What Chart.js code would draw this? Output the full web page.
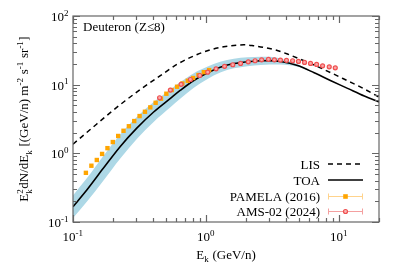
<!DOCTYPE html>
<html>
<head>
<meta charset="utf-8">
<script src="https://cdn.jsdelivr.net/npm/chart.js@4.4.1/dist/chart.umd.min.js"></script>
<style>
  html, body { margin: 0; padding: 0; background: #fff; }
  #wrap { width: 399px; height: 279px; }
</style>
</head>
<body>
<div id="wrap"><canvas id="myChart" width="399" height="279"></canvas></div>
<script>
// LIS (dashed)
var lisE = [0.1, 0.137, 0.185, 0.247, 0.33, 0.448, 0.612, 0.859, 1.08, 1.36, 1.62, 1.93, 2.3, 2.73, 3.35, 4.1, 5.17, 6.51, 8.7, 11.6, 14.7, 20];
var lisF = [1.36, 2.28, 3.73, 5.83, 8.83, 13.3, 20.0, 27.5, 32.2, 35.6, 37.3, 38.1, 36.8, 34.9, 31.9, 27.9, 23.3, 19.3, 14.9, 11.4, 9.14, 6.6];

// TOA (solid) and its uncertainty band
var toaE = [0.1, 0.127, 0.169, 0.226, 0.303, 0.404, 0.54, 0.643, 0.81, 1.02, 1.28, 1.62, 2.05, 2.58, 3.0, 3.65, 4.88, 6.51, 8.7, 11.6, 15.5, 20];
var toaF = [0.167, 0.292, 0.605, 1.25, 2.35, 4.0, 6.32, 8.3, 11.5, 14.8, 18.0, 20.3, 21.6, 22.3, 22.4, 21.7, 19.0, 14.9, 11.4, 8.83, 6.82, 5.6];
var bandLow = [0.114, 0.197, 0.400, 0.836, 1.63, 2.87, 4.69, 6.30, 9.03, 12.0, 15.0, 17.3, 18.6, 19.4, 19.7, 19.6, 18.2, 14.9, 11.4, 8.83, 6.82, 5.6];
var bandHigh = [0.244, 0.432, 0.916, 1.87, 3.40, 5.58, 8.53, 10.9, 14.7, 18.2, 21.6, 23.9, 25.1, 25.6, 25.4, 24.0, 19.9, 14.9, 11.4, 8.83, 6.82, 5.6];

// PAMELA (2016)
var pamelaE = [0.125, 0.1375, 0.151, 0.1655, 0.1816, 0.1992, 0.2186, 0.2398, 0.2631, 0.2887, 0.3167, 0.3475, 0.3812, 0.4182, 0.4588, 0.5034, 0.5523, 0.6059, 0.6647, 0.7293, 0.8001, 0.8778, 0.963, 1.0565];
var pamelaF = [0.52, 0.66, 0.80, 0.98, 1.19, 1.46, 1.79, 2.13, 2.48, 2.95, 3.49, 4.03, 4.67, 5.45, 6.25, 7.38, 8.35, 9.33, 10.4, 11.4, 12.5, 13.8, 15.2, 16.3];

// AMS-02 (2024)
var amsE = [0.448, 0.540, 0.650, 0.764, 0.898, 1.03, 1.19, 1.38, 1.59, 1.82, 2.08, 2.34, 2.62, 2.95, 3.27, 3.63, 4.03, 4.48, 4.96, 5.51, 6.11, 6.79, 7.53, 8.45, 9.38];
var amsF = [6.45, 8.35, 10.1, 11.9, 13.6, 15.2, 17.0, 18.5, 19.5, 20.4, 21.5, 22.3, 23.0, 23.4, 23.0, 22.8, 22.6, 22.3, 21.8, 21.1, 20.4, 19.7, 18.8, 18.2, 17.6];

// axes
var xMin = 0.1, xMax = 20;
var yMin = 0.1, yMax = 100;
var xDecades = [0.1, 1, 10];
var yDecades = [0.1, 1, 10, 100];

var BIG = '13px "Liberation Serif", serif';
var SMALL = '9px "Liberation Serif", serif';

function pts(xs, ys) {
  return xs.map(function(x, i) { return { x: x, y: ys[i] }; });
}

function runWidth(ctx, r) {
  if (typeof r === 'string') { ctx.font = BIG; return ctx.measureText(r).width; }
  ctx.font = SMALL;
  var a = r.sub ? ctx.measureText(r.sub).width : 0;
  var b = r.sup ? ctx.measureText(r.sup).width : 0;
  return Math.max(a, b) + 0.5;
}

function drawRich(ctx, runs, x, y, align) {
  var total = 0;
  runs.forEach(function(r) { total += runWidth(ctx, r); });
  var cx = align === 'center' ? x - total / 2 : (align === 'right' ? x - total : x);
  ctx.textAlign = 'left';
  ctx.textBaseline = 'alphabetic';
  runs.forEach(function(r) {
    var w = runWidth(ctx, r);
    if (typeof r === 'string') {
      ctx.font = BIG;
      ctx.fillText(r, cx, y);
    } else {
      ctx.font = SMALL;
      if (r.sub) ctx.fillText(r.sub, cx, y + 3.5);
      if (r.sup) ctx.fillText(r.sup, cx, y - 5.5);
    }
    cx += w;
  });
}

function tickValues(decades, max) {
  var out = [];
  decades.forEach(function(d) {
    for (var m = 1; m <= 9; m++) {
      var v = m * d;
      if (v <= max * 1.0001) out.push({ v: v, major: m === 1 });
    }
  });
  return out;
}

function expLabel(v) {
  return ['10', { sup: String(Math.round(Math.log10(v))) }];
}

var framePlugin = {
  id: 'frame',
  afterDatasetsDraw: function(chart) {
    var ctx = chart.ctx, a = chart.chartArea;
    var xs = chart.scales.x, ys = chart.scales.y;
    ctx.save();
    ctx.strokeStyle = '#666';
    ctx.lineWidth = 1.2;
    ctx.strokeRect(a.left, a.top, a.right - a.left, a.bottom - a.top);

    ctx.beginPath();
    tickValues(xDecades, xMax).forEach(function(t) {
      var px = Math.round(xs.getPixelForValue(t.v)) + 0.5;
      var len = t.major ? 7 : 4;
      ctx.moveTo(px, a.bottom); ctx.lineTo(px, a.bottom - len);
      ctx.moveTo(px, a.top); ctx.lineTo(px, a.top + len);
    });
    tickValues(yDecades, yMax).forEach(function(t) {
      var py = Math.round(ys.getPixelForValue(t.v)) + 0.5;
      var len = t.major ? 7 : 4;
      ctx.moveTo(a.left, py); ctx.lineTo(a.left + len, py);
      ctx.moveTo(a.right, py); ctx.lineTo(a.right - len, py);
    });
    ctx.stroke();

    // tick labels
    ctx.fillStyle = '#000';
    xDecades.forEach(function(v) {
      drawRich(ctx, expLabel(v), xs.getPixelForValue(v), a.bottom + 19, 'center');
    });
    yDecades.forEach(function(v) {
      drawRich(ctx, expLabel(v), a.left - 4, ys.getPixelForValue(v) + 5, 'right');
    });

    // axis titles
    drawRich(ctx, ['E', { sub: 'k' }, ' (GeV/n)'], (a.left + a.right) / 2, 258.5, 'center');
    ctx.save();
    ctx.translate(28, (a.top + a.bottom) / 2);
    ctx.rotate(-Math.PI / 2);
    drawRich(ctx, ['E', { sub: 'k', sup: '2' }, 'dN/dE', { sub: 'k' }, ' [(GeV/n) m', { sup: '-2' },
      ' s', { sup: '-1' }, ' sr', { sup: '-1' }, ']'], 0, 0, 'center');
    ctx.restore();

    // label in the panel
    drawRich(ctx, ['Deuteron (Z\u22648)'], a.left + 10, 31, 'left');

    // legend
    var rows = [164, 180, 196, 211];
    var labels = ['LIS', 'TOA', 'PAMELA (2016)', 'AMS-02 (2024)'];
    var x0 = 328, x1 = 363, xm = 345.5;
    labels.forEach(function(l, i) {
      drawRich(ctx, [l], 320, rows[i] + 4.5, 'right');
    });
    ctx.lineWidth = 1.5;
    ctx.strokeStyle = '#000';
    ctx.setLineDash([5, 4]);
    ctx.beginPath(); ctx.moveTo(x0, rows[0]); ctx.lineTo(x1, rows[0]); ctx.stroke();
    ctx.setLineDash([]);
    ctx.lineWidth = 1.6;
    ctx.beginPath(); ctx.moveTo(x0, rows[1]); ctx.lineTo(x1, rows[1]); ctx.stroke();

    function errBar(y, col) {
      ctx.strokeStyle = col;
      ctx.lineWidth = 1;
      ctx.beginPath();
      ctx.moveTo(x0, y + 0.5); ctx.lineTo(x1, y + 0.5);
      ctx.moveTo(x0 + 0.5, y - 2.5); ctx.lineTo(x0 + 0.5, y + 3.5);
      ctx.moveTo(x1 - 0.5, y - 2.5); ctx.lineTo(x1 - 0.5, y + 3.5);
      ctx.stroke();
    }
    errBar(rows[2], '#ffd38c');
    ctx.fillStyle = '#ffa500';
    ctx.fillRect(xm - 2.3, rows[2] - 1.8, 4.6, 4.6);
    errBar(rows[3], '#f4a0a0');
    ctx.fillStyle = '#f8b4b4';
    ctx.strokeStyle = '#f05050';
    ctx.lineWidth = 1.2;
    ctx.beginPath(); ctx.arc(xm, rows[3] + 0.5, 2, 0, Math.PI * 2); ctx.fill(); ctx.stroke();
    ctx.restore();
  }
};

var data = {
  datasets: [
    {
      label: 'AMS-02 (2024)',
      data: pts(amsE, amsF),
      showLine: false,
      pointStyle: 'circle',
      pointRadius: 2,
      borderWidth: 1.2,
      borderColor: '#f05050',
      backgroundColor: '#f8a8a8',
      order: 0
    },
    {
      label: 'PAMELA (2016)',
      data: pts(pamelaE, pamelaF),
      showLine: false,
      pointStyle: 'rect',
      pointRadius: 3.1,
      borderWidth: 0,
      backgroundColor: '#ffa500',
      order: 1
    },
    {
      label: 'LIS',
      data: pts(lisE, lisF),
      borderColor: '#000',
      borderWidth: 1.5,
      borderDash: [5, 4],
      pointRadius: 0,
      cubicInterpolationMode: 'monotone',
      fill: false,
      order: 2
    },
    {
      label: 'TOA',
      data: pts(toaE, toaF),
      borderColor: '#000',
      borderWidth: 1.6,
      pointRadius: 0,
      cubicInterpolationMode: 'monotone',
      fill: false,
      order: 3
    },
    {
      label: 'band high',
      data: pts(toaE, bandHigh),
      borderWidth: 0,
      borderColor: 'rgba(0,0,0,0)',
      backgroundColor: '#add8e6',
      pointRadius: 0,
      cubicInterpolationMode: 'monotone',
      fill: '+1',
      order: 4
    },
    {
      label: 'band low',
      data: pts(toaE, bandLow),
      borderWidth: 0,
      borderColor: 'rgba(0,0,0,0)',
      pointRadius: 0,
      cubicInterpolationMode: 'monotone',
      fill: false,
      order: 5
    }
  ]
};

var ctx = document.getElementById('myChart').getContext('2d');

var myChart = new Chart(ctx, {
  type: 'line',
  data: data,
  options: {
    responsive: false,
    animation: false,
    events: [],
    layout: { padding: { left: 73, top: 16, right: 20, bottom: 57 } },
    plugins: { legend: { display: false }, tooltip: { enabled: false } },
    scales: {
      x: { type: 'logarithmic', min: xMin, max: xMax, display: false },
      y: { type: 'logarithmic', min: yMin, max: yMax, display: false }
    }
  },
  plugins: [framePlugin]
});
</script>
</body>
</html>
